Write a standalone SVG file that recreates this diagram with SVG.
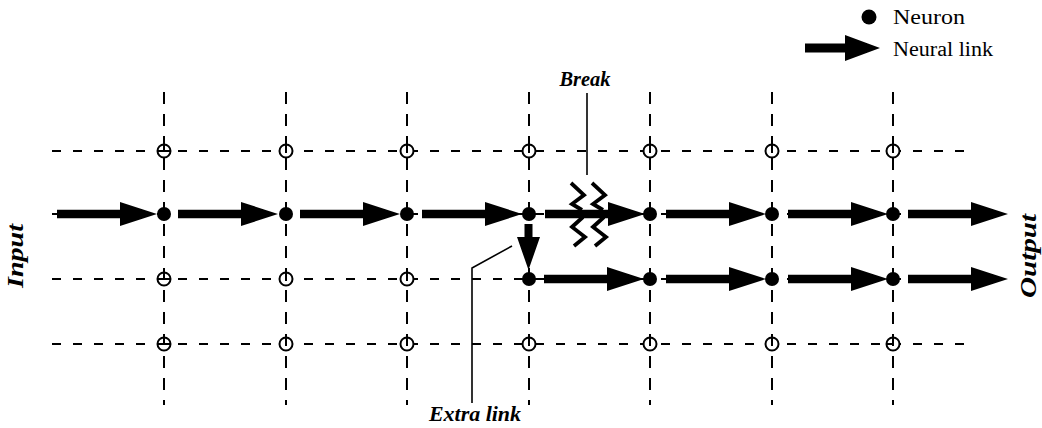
<svg xmlns="http://www.w3.org/2000/svg" xmlns:xlink="http://www.w3.org/1999/xlink" width="1042" height="428" viewBox="0 0 1042 428">
<style>
.grid{stroke:#000;stroke-width:2;fill:none}
.h{stroke-dasharray:9 12}
.v{stroke-dasharray:12 10}
.dot{fill:#000}
.open{fill:#fff;stroke:#000;stroke-width:2}
.tick{stroke:#000;stroke-width:2}
.arrow{fill:#000}
.lbl{font-family:"Liberation Serif",serif;font-weight:bold;font-style:italic;font-size:20px;fill:#000}
.side{font-size:23px}
.leg{font-family:"Liberation Serif",serif;font-size:20px;fill:#000}
.lead{stroke:#000;stroke-width:1.6;fill:none}
.zig{stroke:#000;stroke-width:3.8;fill:none;stroke-linejoin:miter}
</style>
<defs>
<path id="arr" d="M0,-4.3 H63 V-12 L100,0 L63,12 V4.3 H0 Z"/>
</defs>
<rect width="1042" height="428" fill="#fff"/>
<g id="grid">
<line class="grid h" x1="52" y1="151" x2="965" y2="151"/>
<line class="grid h" x1="52" y1="214" x2="965" y2="214"/>
<line class="grid h" x1="52" y1="279" x2="965" y2="279"/>
<line class="grid h" x1="52" y1="344" x2="965" y2="344"/>
<line class="grid v" x1="164" y1="92" x2="164" y2="405"/>
<line class="grid v" x1="286" y1="92" x2="286" y2="405"/>
<line class="grid v" x1="407" y1="92" x2="407" y2="405"/>
<line class="grid v" x1="529" y1="92" x2="529" y2="405"/>
<line class="grid v" x1="650" y1="92" x2="650" y2="405"/>
<line class="grid v" x1="772" y1="92" x2="772" y2="405"/>
<line class="grid v" x1="893" y1="92" x2="893" y2="405"/>
</g>
<g id="connectors">
<use xlink:href="#arr" class="arrow" transform="translate(57,214)"/>
<use xlink:href="#arr" class="arrow" transform="translate(178,214)"/>
<use xlink:href="#arr" class="arrow" transform="translate(300,214)"/>
<use xlink:href="#arr" class="arrow" transform="translate(422,214)"/>
<use xlink:href="#arr" class="arrow" transform="translate(545,214)"/>
<use xlink:href="#arr" class="arrow" transform="translate(666,214)"/>
<use xlink:href="#arr" class="arrow" transform="translate(788,214)"/>
<use xlink:href="#arr" class="arrow" transform="translate(908,214)"/>
<use xlink:href="#arr" class="arrow" transform="translate(544,279)"/>
<use xlink:href="#arr" class="arrow" transform="translate(666,279)"/>
<use xlink:href="#arr" class="arrow" transform="translate(788,279)"/>
<use xlink:href="#arr" class="arrow" transform="translate(908,279)"/>
<path class="arrow" d="M524.5,224 H532.5 V237 H540 L528.5,270 L517,237 H524.5 Z"/>
</g>
<g id="break">
<line class="lead" x1="587" y1="93" x2="587" y2="175"/>
<path class="zig" d="M571,183 L584,195 L572,204 L582,210"/>
<path class="zig" d="M592,183 L605,195 L593,204 L603,210"/>
<path class="zig" d="M583,217 L572,227 L585,237 L574,246"/>
<path class="zig" d="M604,217 L593,227 L606,237 L595,246"/>
<text class="lbl" x="585" y="86" text-anchor="middle" textLength="51" lengthAdjust="spacingAndGlyphs">Break</text>
</g>
<g id="extra-link">
<polyline class="lead" points="512,246 472,268 472,403"/>
<text class="lbl" x="475" y="421" text-anchor="middle" textLength="92" lengthAdjust="spacingAndGlyphs">Extra link</text>
</g>
<g id="neurons-active">
<circle class="dot" cx="164" cy="214" r="7"/>
<circle class="dot" cx="286" cy="214" r="7"/>
<circle class="dot" cx="407" cy="214" r="7"/>
<circle class="dot" cx="529" cy="214" r="7"/>
<circle class="dot" cx="650" cy="214" r="7"/>
<circle class="dot" cx="772" cy="214" r="7"/>
<circle class="dot" cx="893" cy="214" r="7"/>
<circle class="dot" cx="529" cy="279" r="7"/>
<circle class="dot" cx="650" cy="279" r="7"/>
<circle class="dot" cx="772" cy="279" r="7"/>
<circle class="dot" cx="893" cy="279" r="7"/>
</g>
<g id="neurons-idle">
<g id="n-164-151"><circle class="open" cx="164" cy="151" r="6.5"/><line class="tick" x1="158" y1="151" x2="170" y2="151"/><line class="tick" x1="164" y1="143" x2="164" y2="151"/></g>
<g id="n-164-279"><circle class="open" cx="164" cy="279" r="6.5"/><line class="tick" x1="158" y1="279" x2="170" y2="279"/><line class="tick" x1="164" y1="271" x2="164" y2="279"/></g>
<g id="n-164-344"><circle class="open" cx="164" cy="344" r="6.5"/><line class="tick" x1="158" y1="344" x2="170" y2="344"/><line class="tick" x1="164" y1="336" x2="164" y2="344"/></g>
<g id="n-286-151"><circle class="open" cx="286" cy="151" r="6.5"/><line class="tick" x1="286" y1="141" x2="286" y2="153"/></g>
<g id="n-286-279"><circle class="open" cx="286" cy="279" r="6.5"/><line class="tick" x1="286" y1="271" x2="286" y2="281"/></g>
<g id="n-286-344"><circle class="open" cx="286" cy="344" r="6.5"/><line class="tick" x1="286" y1="336" x2="286" y2="346"/></g>
<g id="n-407-151"><circle class="open" cx="407" cy="151" r="6.5"/><line class="tick" x1="407" y1="141" x2="407" y2="153"/></g>
<g id="n-407-279"><circle class="open" cx="407" cy="279" r="6.5"/><line class="tick" x1="407" y1="271" x2="407" y2="281"/></g>
<g id="n-407-344"><circle class="open" cx="407" cy="344" r="6.5"/><line class="tick" x1="407" y1="336" x2="407" y2="346"/></g>
<g id="n-529-151"><circle class="open" cx="529" cy="151" r="6.5"/><line class="tick" x1="529" y1="141" x2="529" y2="153"/></g>
<g id="n-529-344"><circle class="open" cx="529" cy="344" r="6.5"/><line class="tick" x1="529" y1="336" x2="529" y2="346"/></g>
<g id="n-650-151"><circle class="open" cx="650" cy="151" r="6.5"/><line class="tick" x1="650" y1="141" x2="650" y2="153"/></g>
<g id="n-650-344"><circle class="open" cx="650" cy="344" r="6.5"/><line class="tick" x1="650" y1="336" x2="650" y2="346"/></g>
<g id="n-772-151"><circle class="open" cx="772" cy="151" r="6.5"/><line class="tick" x1="772" y1="141" x2="772" y2="153"/></g>
<g id="n-772-344"><circle class="open" cx="772" cy="344" r="6.5"/><line class="tick" x1="772" y1="336" x2="772" y2="346"/></g>
<g id="n-893-151"><circle class="open" cx="893" cy="151" r="6.5"/><line class="tick" x1="893" y1="141" x2="893" y2="153"/></g>
<g id="n-893-344"><circle class="open" cx="893" cy="344" r="6.5"/><line class="tick" x1="887" y1="344" x2="893" y2="344"/><line class="tick" x1="893" y1="336" x2="893" y2="346"/></g>
</g>
<g id="labels">
<text class="lbl side" transform="translate(23,256) rotate(-90)" text-anchor="middle" textLength="64" lengthAdjust="spacingAndGlyphs">Input</text>
<text class="lbl side" transform="translate(1036,256) rotate(-90)" text-anchor="middle" textLength="84" lengthAdjust="spacingAndGlyphs">Output</text>
</g>
<g id="legend">
<circle class="dot" cx="869" cy="17" r="7.5"/>
<text class="leg" x="893" y="24" textLength="72" lengthAdjust="spacingAndGlyphs">Neuron</text>
<path class="arrow" d="M805,43.5 H845 V35 L880,48 L845,61 V52.5 H805 Z"/>
<text class="leg" x="893" y="56" textLength="100" lengthAdjust="spacingAndGlyphs">Neural link</text>
</g>
</svg>
